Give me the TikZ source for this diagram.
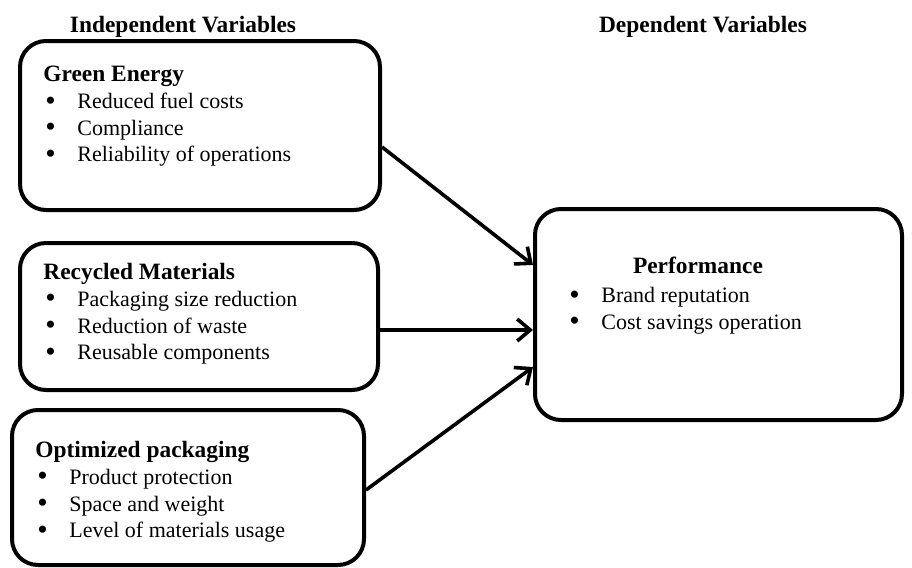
\documentclass[tikz,border=0pt]{standalone}
\usepackage{fontspec}
\setmainfont{Liberation Serif}
\usetikzlibrary{arrows.meta, calc}
\tikzstyle{varbox} = [rectangle, rounded corners=13pt, line width=2pt, draw=black, anchor=north west, inner sep=0pt]
\tikzstyle{heading} = [font=\fontsize{11.7}{14}\selectfont\bfseries, anchor=base, inner sep=0pt]
\tikzstyle{itemlist} = [align=left, anchor=north west, inner sep=0pt, font=\fontsize{11}{13.35}\selectfont]
\tikzstyle{arrow} = [line width=1.8pt, -{Straight Barb[length=6.5pt,width=11pt,line width=1.8pt]}]
\newcommand{\bul}[1]{\makebox[17pt][l]{\hspace{1pt}\raisebox{-0.8pt}{\scalebox{1.35}{\textbullet}}}#1}
\newcommand{\ttl}[1]{{\fontsize{11.7}{13.35}\selectfont\bfseries #1}}
\begin{document}
\begin{tikzpicture}[x=0.5pt, y=-0.5pt]
   \useasboundingbox (0,0) rectangle (912,568);

   \node (indep) [heading] at (183,32) {Independent Variables};
   \node (dep) [heading] at (703,32) {Dependent Variables};

   \node (green) [varbox, minimum width=180pt, minimum height=84.5pt] at (18,39) {};
   \node (recycled) [varbox, minimum width=179pt, minimum height=73.5pt] at (18,241) {};
   \node (optim) [varbox, minimum width=176pt, minimum height=77.5pt] at (10,408) {};
   \node (perf) [varbox, minimum width=183.5pt, minimum height=105.5pt] at (533,207) {};

   \node (greentxt) [itemlist] at (43,66) {\ttl{Green Energy}\\\bul{Reduced fuel costs}\\\bul{Compliance}\\\bul{Reliability of operations}};
   \node (recycledtxt) [itemlist] at (43,263) {\ttl{Recycled Materials}\\\bul{Packaging size reduction}\\\bul{Reduction of waste}\\\bul{Reusable components}};
   \node (optimtxt) [itemlist] at (35,441) {\ttl{Optimized packaging}\\\bul{Product protection}\\\bul{Space and weight}\\\bul{Level of materials usage}};

   \node (perftitle) [heading] at (698,273) {Performance};
   \node (perftxt) [itemlist] at (567,287) {\bul{Brand reputation}\\\bul{Cost savings operation}};

   \draw [arrow] ($(green.east)+(0,21.5)$) -- ($(perf.west)+(0,-49.5)$);
   \draw [arrow] ($(recycled.east)+(0,13.5)$) -- ($(perf.west)+(0,15.5)$);
   \draw [arrow] ($(optim.east)+(0,2.5)$) -- ($(perf.west)+(0,52.5)$);
\end{tikzpicture}
\end{document}
